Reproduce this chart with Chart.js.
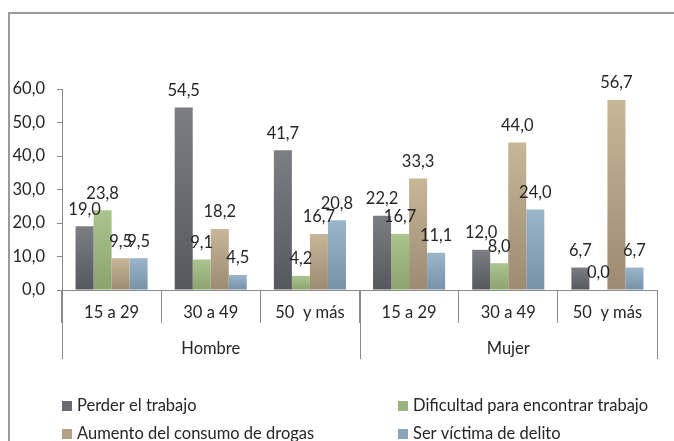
<!DOCTYPE html>
<html>
<head>
<meta charset="utf-8">
<script src="https://cdn.jsdelivr.net/npm/chart.js@4.4.1/dist/chart.umd.min.js"></script>
<style>
  html, body { margin: 0; padding: 0; background: #fff; }
  canvas { display: block; }
</style>
</head>
<body>
<canvas id="grafico" width="674" height="441"></canvas>
<script>
// datos del grafico
const categorias = ["15 a 29", "30 a 49", "50  y más", "15 a 29", "30 a 49", "50  y más"];
const grupos = ["Hombre", "Mujer"];
const perderTrabajo = [19.0, 54.5, 41.7, 22.2, 12.0, 6.7];
const dificultadTrabajo = [23.8, 9.1, 4.2, 16.7, 8.0, 0.0];
const aumentoDrogas = [9.5, 18.2, 16.7, 33.3, 44.0, 56.7];
const victimaDelito = [9.5, 4.5, 20.8, 11.1, 24.0, 6.7];
const nombresSeries = ["Perder el trabajo", "Dificultad para encontrar trabajo", "Aumento del consumo de drogas", "Ser víctima de delito"];
const yTicks = [0, 10, 20, 30, 40, 50, 60];

// colores: arriba, abajo, leyenda
const colores = [
  ["#7d7d84", "#57575f", "#6a6a72"],
  ["#abc58e", "#8ca26f", "#9bb47e"],
  ["#c8b698", "#9c8a72", "#b4a286"],
  ["#9ab6ca", "#7791a7", "#8aa4ba"]
];

const fuente = "Lato, 'Liberation Sans', sans-serif";
const tam = 16.5;
const gris = "#8a8a8a";

function formato(v) {
  return v.toFixed(1).replace(".", ",");
}

// degradado por barra
function degradado(i) {
  return function(ctx) {
    const chart = ctx.chart;
    const area = chart.chartArea;
    if (!area || ctx.raw === undefined) return colores[i][2];
    const y = chart.scales.y.getPixelForValue(ctx.raw);
    const g = chart.ctx.createLinearGradient(0, y, 0, area.bottom + 0.01);
    g.addColorStop(0, colores[i][0]);
    g.addColorStop(1, colores[i][1]);
    return g;
  };
}

const series = [perderTrabajo, dificultadTrabajo, aumentoDrogas, victimaDelito];

// marco, etiquetas de valor, grupos y leyenda
const extras = {
  id: "extras",
  beforeDraw(chart) {
    const c = chart.ctx;
    c.save();
    c.strokeStyle = "#9a9a9a";
    c.lineWidth = 2;
    c.strokeRect(9, 13, 720, 500);
    c.restore();
  },
  afterDatasetsDraw(chart) {
    const c = chart.ctx;
    c.save();
    c.font = tam + "px " + fuente;
    c.fillStyle = "#262626";
    c.textAlign = "center";
    c.textBaseline = "middle";
    chart.data.datasets.forEach((ds, i) => {
      chart.getDatasetMeta(i).data.forEach((bar, j) => {
        c.fillText(formato(ds.data[j]), bar.x, bar.y - 17);
      });
    });
    c.restore();
  },
  afterDraw(chart) {
    const c = chart.ctx;
    const x = chart.scales.x;
    const mitad = (x.getPixelForValue(1) - x.getPixelForValue(0)) / 2;
    const base = chart.chartArea.bottom;
    c.save();
    c.strokeStyle = gris;
    c.lineWidth = 1;
    const porGrupo = categorias.length / grupos.length;
    for (let g = 0; g <= grupos.length; g++) {
      let px;
      if (g < grupos.length) px = x.getPixelForValue(g * porGrupo) - mitad;
      else px = x.getPixelForValue(categorias.length - 1) + mitad;
      px = Math.round(px) + 0.5;
      c.beginPath();
      c.moveTo(px, base);
      c.lineTo(px, base + 69);
      c.stroke();
    }
    c.font = tam + "px " + fuente;
    c.fillStyle = "#262626";
    c.textAlign = "center";
    c.textBaseline = "middle";
    grupos.forEach((nombre, g) => {
      const a = x.getPixelForValue(g * porGrupo) - mitad;
      const b = x.getPixelForValue((g + 1) * porGrupo - 1) + mitad;
      c.fillText(nombre, (a + b) / 2, base + 59);
    });
    // leyenda en dos columnas
    const cols = [62, 398];
    const filas = [406, 434];
    c.textAlign = "left";
    nombresSeries.forEach((nombre, i) => {
      const cx = cols[i % 2];
      const cy = filas[Math.floor(i / 2)];
      c.fillStyle = colores[i][2];
      c.fillRect(cx, cy - 5, 10, 10);
      c.fillStyle = "#262626";
      c.fillText(nombre, cx + 15, cy);
    });
    c.restore();
  }
};

new Chart(document.getElementById("grafico"), {
  type: "bar",
  data: {
    labels: categorias,
    datasets: series.map((d, i) => ({
      label: nombresSeries[i],
      data: d,
      backgroundColor: degradado(i),
      borderWidth: 0,
      categoryPercentage: 0.727,
      barPercentage: 1
    }))
  },
  options: {
    responsive: false,
    animation: false,
    devicePixelRatio: 1,
    layout: { padding: { left: 10, top: 89, right: 17, bottom: 81 } },
    plugins: {
      legend: { display: false },
      tooltip: { enabled: false }
    },
    scales: {
      x: {
        grid: { offset: true, drawOnChartArea: false, tickLength: 33, color: gris },
        border: { color: gris },
        ticks: {
          autoSkip: false,
          maxRotation: 0,
          padding: -20,
          color: "#262626",
          font: { family: fuente, size: tam }
        },
        afterFit(scale) { scale.height = 70; }
      },
      y: {
        min: 0,
        max: 60,
        afterBuildTicks(scale) { scale.ticks = yTicks.map(v => ({ value: v })); },
        grid: { drawOnChartArea: false, tickLength: 5, color: gris },
        border: { color: gris },
        ticks: {
          padding: 12,
          color: "#262626",
          font: { family: fuente, size: tam },
          callback: v => formato(v)
        },
        afterFit(scale) { scale.width = 52; }
      }
    }
  },
  plugins: [extras]
});
</script>
</body>
</html>
